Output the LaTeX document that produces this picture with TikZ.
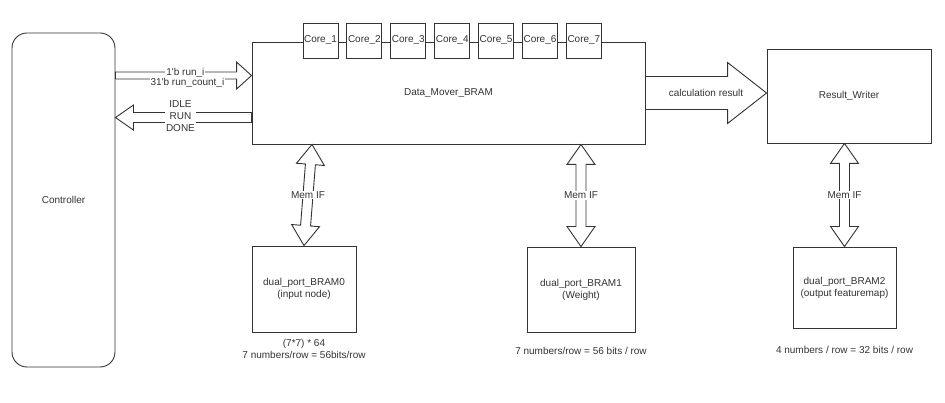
\documentclass[tikz,border=0pt]{standalone}
\usepackage{fontspec}
\setmainfont{Liberation Sans}
\usepackage{tikz}
\usetikzlibrary{positioning,calc}
\definecolor{linedark}{HTML}{333333}
\newcommand{\lbl}{\fontsize{10}{12}\selectfont}
% fat arrow from #1 to #2: shaft half width #3, head half width #4, head length #5
\newcommand{\fatarrow}[5]{%
  \draw[bar] ($(#1)!#3!90:(#2)$) -- ($(#2)!#5!(#1)!#3!-90:(#1)$) -- ($(#2)!#5!(#1)!#4!-90:(#1)$) -- (#2)
    -- ($(#2)!#5!(#1)!#4!90:(#1)$) -- ($(#2)!#5!(#1)!#3!90:(#1)$) -- ($(#1)!#3!-90:(#2)$) -- cycle;}
% fat double arrow between #1 and #2
\newcommand{\dblarrow}[2]{%
  \draw[bar] (#1) -- ($(#1)!20pt!(#2)!14pt!90:(#2)$) -- ($(#1)!20pt!(#2)!5pt!90:(#2)$)
    -- ($(#2)!20pt!(#1)!5pt!-90:(#1)$) -- ($(#2)!20pt!(#1)!14pt!-90:(#1)$) -- (#2)
    -- ($(#2)!20pt!(#1)!14pt!90:(#1)$) -- ($(#2)!20pt!(#1)!5pt!90:(#1)$)
    -- ($(#1)!20pt!(#2)!5pt!-90:(#2)$) -- ($(#1)!20pt!(#2)!14pt!-90:(#2)$) -- cycle;}
\tikzset{
  blk/.style={draw=linedark, line width=.9pt, fill=white, align=center, inner sep=2pt, font=\lbl, text=linedark},
  core/.style={blk, minimum width=35pt, minimum height=35pt, inner sep=0pt},
  bar/.style={draw=linedark, line width=.9pt, fill=white, line join=miter},
  tag/.style={fill=white, inner sep=1pt, align=center, font=\lbl, text=linedark},
  note/.style={font=\lbl, text=linedark, align=center, inner sep=1pt},
}
\begin{document}
\begin{tikzpicture}[x=1pt, y=-1pt]
  \useasboundingbox (0,0) rectangle (945,403);
  \node[blk, rounded corners=15pt, minimum width=103pt, minimum height=334pt] (ctrl) at (63.5,200) {Controller};
  \node[blk, minimum width=393pt, minimum height=102pt] (mover) at (448.5,93) {Data\_Mover\_BRAM};
  \node[blk, minimum width=164pt, minimum height=94pt] (rw) at (849,96) {Result\_Writer};
  \node[blk, minimum width=104pt, minimum height=86pt] (bram0) at (304,289) {dual\_port\_BRAM0\\(input node)};
  \node[blk, minimum width=108pt, minimum height=85pt] (bram1) at (581,289.5) {dual\_port\_BRAM1\\(Weight)};
  \node[blk, minimum width=103pt, minimum height=81pt] (bram2) at (844.5,287.5) {dual\_port\_BRAM2\\(output featuremap)};
  % cores on the top edge
  \node[core] (c1) at (320.5,40.5) {Core\_1};
  \foreach \i [remember=\i as \j (initially 1)] in {2,...,7}{ \node[core, right=8pt of c\j] (c\i) {Core\_\i}; }
  % control signals
  \coordinate (runB) at ($(mover.north west)+(0,34)$);
  \coordinate (runA) at (ctrl.east |- runB);
  \fatarrow{runA}{runB}{3.5pt}{13.5pt}{15pt}
  \node[tag] at ($(runA)+(70,-3)$) {1\textquotesingle b run\_i};
  \node[tag] at ($(runA)+(72,7)$) {31\textquotesingle b run\_count\_i};
  \coordinate (stA) at ($(mover.north west)+(0,76)$);
  \coordinate (stB) at (ctrl.east |- stA);
  \fatarrow{stA}{stB}{5pt}{12.5pt}{18pt}
  \node[tag] at ($(stB)+(65,-1)$) {IDLE\\RUN\\DONE};
  % result path
  \coordinate (resB) at (rw.west |- mover.east);
  \fatarrow{mover.east}{resB}{16.5pt}{30.5pt}{39pt}
  \node[tag, fill=none] at ($(mover.east)!.5!(resB)$) {calculation result};
  % memory interfaces
  \coordinate (mif0) at ([xshift=8pt]bram0.north |- mover.south);
  \coordinate (mif1) at (bram1.north |- mover.south);
  \coordinate (mif2) at (bram2.north |- rw.south);
  \dblarrow{mif0}{bram0.north}
  \dblarrow{mif1}{bram1.north}
  \dblarrow{mif2}{bram2.north}
  \foreach \k in {0,1,2}{ \node[tag] at ($(mif\k)!.5!(bram\k.north)$) {Mem IF}; }
  % notes
  \node[note, below=6pt of bram0.south] {(7*7) * 64\\7 numbers/row = 56bits/row};
  \node[note, below=14pt of bram1.south] {7 numbers/row = 56 bits / row};
  \node[note, below=17pt of bram2.south] {4 numbers / row = 32 bits / row};
\end{tikzpicture}
\end{document}
